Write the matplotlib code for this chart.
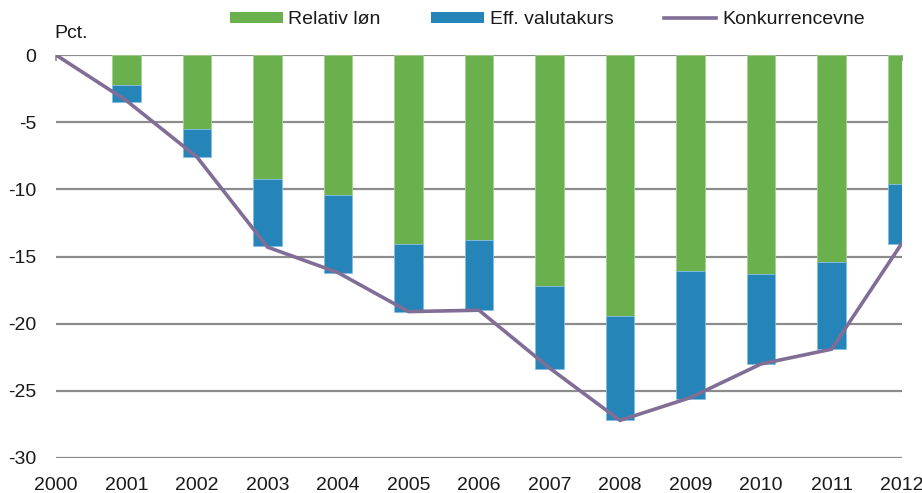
import matplotlib

matplotlib.use("Agg")
import matplotlib.pyplot as plt
from matplotlib.lines import Line2D
from matplotlib.patches import Patch

# Values (pct.)
bar_years = [2001, 2002, 2003, 2004, 2005, 2006, 2007, 2008, 2009, 2010, 2011, 2012]
relativ_lon = [-2.2, -5.5, -9.2, -10.4, -14.1, -13.8, -17.2, -19.4, -16.1, -16.3, -15.4, -9.6]
eff_valutakurs = [-1.3, -2.1, -5.0, -5.8, -5.0, -5.2, -6.2, -7.8, -9.5, -6.7, -6.5, -4.5]

line_years = [2000, 2001, 2002, 2003, 2004, 2005, 2006, 2007, 2008, 2009, 2010, 2011, 2012]
konkurrenceevne = [0, -3.4, -7.6, -14.3, -16.2, -19.1, -19.0, -23.3, -27.2, -25.5, -23.0, -21.9, -14.0]

y_ticks = [0, -5, -10, -15, -20, -25, -30]

GREEN = "#6AB04C"
BLUE = "#2585B8"
PURPLE = "#806E96"
GRID = "#8C8C8C"
TEXT = "#1A1A1A"

plt.rcParams["font.family"] = ["Liberation Sans Narrow", "Liberation Sans", "DejaVu Sans"]
plt.rcParams["font.size"] = 14
plt.rcParams["text.color"] = TEXT

fig = plt.figure(figsize=(9.22, 4.93), dpi=100)
ax = fig.add_axes([56 / 922, 35 / 493, 846 / 922, 403 / 493])

ax.bar(bar_years, relativ_lon, width=0.4, color=GREEN, edgecolor="#A5D192",
       linewidth=0.6, zorder=2)
ax.bar(bar_years, eff_valutakurs, width=0.4, bottom=relativ_lon, color=BLUE,
       edgecolor="#86BDE0", linewidth=0.6, zorder=2)
ax.plot(line_years, konkurrenceevne, color=PURPLE, linewidth=2.6, zorder=3,
        solid_joinstyle="miter")

ax.set_xlim(2000, 2012)
ax.set_ylim(-30, 0)
ax.set_yticks(y_ticks)
ax.set_yticklabels([str(v) for v in y_ticks])
ax.set_xticks(line_years)
ax.set_xticklabels([str(y) for y in line_years])

for s in ax.spines.values():
    s.set_visible(False)
for v in y_ticks:
    ax.axhline(v, color=GRID, linewidth=1.6, zorder=1)

ax.tick_params(axis="y", length=0, pad=14, labelsize=14, labelcolor=TEXT)
ax.tick_params(axis="x", top=True, bottom=False, direction="in", length=4,
               width=1.2, color=GRID, pad=13.5, labelsize=14, labelcolor=TEXT)

fig.text(54 / 922, 1 - 38 / 493, "Pct.", fontsize=14, ha="left", va="baseline")

handles = [
    Patch(facecolor=GREEN, edgecolor="none"),
    Patch(facecolor=BLUE, edgecolor="none"),
    Line2D([0], [0], color=PURPLE, linewidth=2.6),
]
fig.legend(handles, ["Relativ løn", "Eff. valutakurs", "Konkurrencevne"],
           loc="center left", bbox_to_anchor=(230 / 922, 1 - 20 / 493), ncol=3,
           frameon=False, fontsize=14, handlelength=2.7, handleheight=0.5,
           handletextpad=0.3, columnspacing=2.6, borderpad=0, borderaxespad=0)

fig.savefig("out.png", dpi=100)
